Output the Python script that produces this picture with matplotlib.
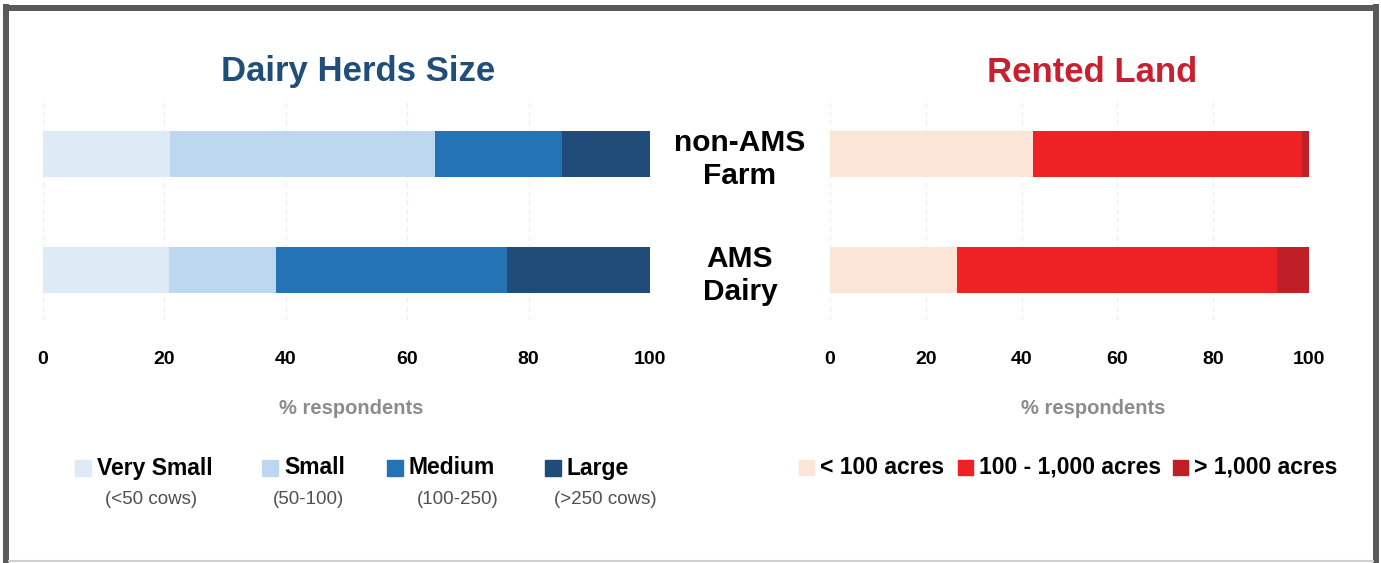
import matplotlib
matplotlib.use("Agg")
import numpy as np
import matplotlib.pyplot as plt
from matplotlib.patches import Rectangle
from matplotlib.lines import Line2D
from matplotlib.transforms import blended_transform_factory

plt.rcParams['font.family'] = ['Liberation Sans', 'DejaVu Sans']
plt.rcParams['font.weight'] = 'bold'

# bar order bottom -> top
farms = ["AMS\nDairy", "non-AMS\nFarm"]

herd_labels = ["Very Small", "Small", "Medium", "Large"]
herd_notes = ["(<50 cows)", "(50-100)", "(100-250)", "(>250 cows)"]
herd_colors = ["#deeaf6", "#bdd7ee", "#2474b5", "#1f4c78"]
very_small = [20.7, 21.0]
small = [17.7, 43.5]
medium = [38.0, 21.0]
large = [23.6, 14.5]

land_labels = ["< 100 acres", "100 - 1,000 acres", "> 1,000 acres"]
land_colors = ["#fbe5d6", "#ee2224", "#c01f28"]
under_100 = [26.6, 42.3]
mid_range = [66.8, 56.2]
over_1000 = [6.6, 1.5]

W, H = 1381, 563
fig = plt.figure(figsize=(W / 100, H / 100), dpi=100)
fig.patch.set_facecolor("white")

def fx(x):
    return x / W

def fy(y):
    return 1 - y / H

ax_l = fig.add_axes([fx(43), fy(320), fx(650) - fx(43), fy(97) - fy(320)])
ax_r = fig.add_axes([fx(830), fy(320), fx(1309) - fx(830), fy(97) - fy(320)])

ypos = np.arange(len(farms))

def stacked(ax, series, colors):
    left = np.zeros(len(farms))
    for vals, col in zip(series, colors):
        ax.barh(ypos, vals, left=left, height=0.4, color=col, edgecolor="none", zorder=2)
        left += np.array(vals)
    ax.set_xlim(0, 100)
    ax.set_ylim(-0.43, 1.49)
    ax.set_xticks([0, 20, 40, 60, 80, 100])
    ax.set_yticks([])
    ax.tick_params(axis="x", length=0, pad=22, labelsize=14)
    for lab in ax.get_xticklabels():
        lab.set_fontweight("bold")
    for s in ax.spines.values():
        s.set_visible(False)
    ax.grid(axis="x", color="#ececec", linestyle=(0, (4, 4)), linewidth=0.8, zorder=0)

stacked(ax_l, [very_small, small, medium, large], herd_colors)
stacked(ax_r, [under_100, mid_range, over_1000], land_colors)

# titles and axis labels
fig.text(fx(358), fy(72), "Dairy Herds Size", ha="center", va="center",
         fontsize=25, fontweight="bold", color="#1f4e79")
fig.text(fx(1092), fy(72), "Rented Land", ha="center", va="center",
         fontsize=25, fontweight="bold", color="#c8202f")
fig.text(fx(351), fy(408), "% respondents", ha="center", va="center",
         fontsize=14.5, fontweight="bold", color="#8c8c8c")
fig.text(fx(1093), fy(408), "% respondents", ha="center", va="center",
         fontsize=14.5, fontweight="bold", color="#8c8c8c")

# farm type labels between the two panels
tr = blended_transform_factory(fig.transFigure, ax_l.transData)
for y, name in zip(ypos, farms):
    ax_l.text(fx(740), y - 0.05, name, transform=tr, ha="center", va="center",
              fontsize=21.5, fontweight="bold", color="black", linespacing=1.22,
              clip_on=False)

# legend for herd size
herd_sq_x = [75, 262, 387, 545]
herd_note_x = [151, 308, 458, 605]
for i in range(len(herd_labels)):
    fig.patches.append(Rectangle((fx(herd_sq_x[i]), fy(476)), fx(16), 16 / H,
                                 transform=fig.transFigure, color=herd_colors[i]))
    fig.text(fx(herd_sq_x[i] + 22), fy(468), herd_labels[i], ha="left", va="center",
             fontsize=16.5, fontweight="bold", color="black")
    fig.text(fx(herd_note_x[i]), fy(500), herd_notes[i], ha="center", va="center",
             fontsize=13.5, fontweight="normal", color="#505050")

# legend for rented land
land_sq_x = [799, 958, 1173]
for i in range(len(land_labels)):
    fig.patches.append(Rectangle((fx(land_sq_x[i]), fy(475)), fx(15), 15 / H,
                                 transform=fig.transFigure, color=land_colors[i]))
    fig.text(fx(land_sq_x[i] + 21), fy(467), land_labels[i], ha="left", va="center",
             fontsize=16.5, fontweight="bold", color="black")

# frame around the whole figure
frame = dict(transform=fig.transFigure, color="#595959", linewidth=4.3,
             solid_capstyle="butt")
fig.lines.append(Line2D([fx(6), fx(6)], [fy(4), fy(563)], **frame))
fig.lines.append(Line2D([fx(3), fx(1379)], [fy(7.5), fy(7.5)], **frame))
fig.lines.append(Line2D([fx(1376), fx(1376)], [fy(4), fy(563)], **frame))
fig.lines.append(Line2D([fx(9), fx(1373)], [fy(561), fy(561)],
                        transform=fig.transFigure, color="#d0d0d0", linewidth=1.5))

fig.savefig("out.png", dpi=100, facecolor="white")
